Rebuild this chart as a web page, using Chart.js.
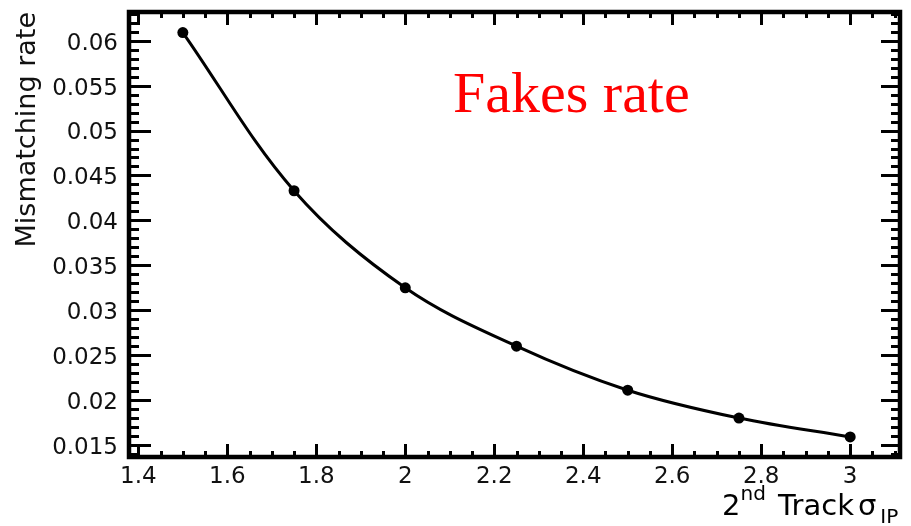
<!DOCTYPE html>
<html>
<head>
<meta charset="utf-8">
<script src="https://cdn.jsdelivr.net/npm/chart.js@4"></script>
<style>
  html, body { margin: 0; padding: 0; background: #fff; }
  #wrap { width: 911px; height: 526px; }
</style>
</head>
<body>
<div id="wrap"><canvas id="c" width="911" height="526"></canvas></div>
<script>
// Second-track impact-parameter significance cut and the resulting mismatching rate
const sigmaIP = [1.5, 1.75, 2.0, 2.25, 2.5, 2.75, 3.0];
const mismatchRate = [0.0609, 0.0433, 0.0325, 0.0260, 0.0211, 0.0180, 0.0159];

// Labelled ticks on each axis
const xTickLabels = [1.4, 1.6, 1.8, 2.0, 2.2, 2.4, 2.6, 2.8, 3.0];
const yTickLabels = [0.015, 0.02, 0.025, 0.03, 0.035, 0.04, 0.045, 0.05, 0.055, 0.06];

// Axis ranges
const xRange = [1.379, 3.112];
const yRange = [0.01367, 0.06319];

const labelFont = { family: '"DejaVu Sans", sans-serif', size: 23 };
const fmt = v => String(parseFloat(Number(v).toFixed(4)));

// Boxed frame with inward major/minor ticks on all four sides, plus text annotations
const framePlugin = {
  id: 'frame',
  afterDraw(chart) {
    const { ctx, chartArea: a, scales } = chart;
    const xs = scales.x, ys = scales.y;
    ctx.save();
    ctx.strokeStyle = '#000';
    ctx.lineCap = 'butt';

    // x ticks: minor every 0.05, major every 0.2
    ctx.lineWidth = 3;
    const kx0 = Math.ceil(xs.min / 0.05 - 1e-9), kx1 = Math.floor(xs.max / 0.05 + 1e-9);
    for (let k = kx0; k <= kx1; k++) {
      const px = Math.round(xs.getPixelForValue(k * 0.05)) + 0.5;
      const major = k % 4 === 0;
      const lb = major ? 13 : 6, lt = major ? 13 : 6;
      ctx.beginPath();
      ctx.moveTo(px, a.bottom); ctx.lineTo(px, a.bottom - lb);
      ctx.moveTo(px, a.top); ctx.lineTo(px, a.top + lt);
      ctx.stroke();
    }
    // y ticks: minor every 0.001, major every 0.005
    const ky0 = Math.ceil(ys.min / 0.001 - 1e-9), ky1 = Math.floor(ys.max / 0.001 + 1e-9);
    for (let k = ky0; k <= ky1; k++) {
      const py = Math.round(ys.getPixelForValue(k * 0.001)) + 0.5;
      const major = k % 5 === 0;
      const ll = major ? 22 : 10, lr = major ? 19 : 9;
      ctx.beginPath();
      ctx.moveTo(a.left, py); ctx.lineTo(a.left + ll, py);
      ctx.moveTo(a.right, py); ctx.lineTo(a.right - lr, py);
      ctx.stroke();
    }
    // frame
    ctx.lineWidth = 4.5;
    ctx.strokeRect(a.left, a.top, a.right - a.left, a.bottom - a.top);

    // in-plot annotation
    ctx.fillStyle = '#ff0000';
    ctx.font = '58px "Liberation Serif", serif';
    ctx.textBaseline = 'alphabetic';
    ctx.textAlign = 'left';
    ctx.fillText('Fakes rate', 453, 112);

    // x-axis title with superscript and subscript
    const big = '29px "DejaVu Sans", sans-serif';
    const small = '20px "DejaVu Sans", sans-serif';
    const base = 515;
    const parts = [
      ['2', big, 0, 0],
      ['nd', small, -15, 0],
      [' Track', big, 0, 3],
      ['\u03c3', big, 0, 4],
      ['IP', small, 8, 4]
    ];
    ctx.fillStyle = '#000';
    let x = 722;
    for (const [t, f, dy, gap] of parts) {
      ctx.font = f;
      x += gap;
      ctx.fillText(t, x, base + dy);
      x += ctx.measureText(t).width;
    }
    ctx.restore();
  }
};

new Chart(document.getElementById('c'), {
  type: 'line',
  data: {
    datasets: [{
      data: sigmaIP.map((x, i) => ({ x, y: mismatchRate[i] })),
      borderColor: '#000',
      borderWidth: 3,
      pointRadius: 5.5,
      pointBackgroundColor: '#000',
      pointBorderWidth: 0,
      tension: 0.35,
      fill: false,
      clip: false
    }]
  },
  options: {
    responsive: false,
    animation: false,
    events: [],
    layout: { padding: { top: 12, right: 11, left: 0, bottom: 0 } },
    plugins: { legend: { display: false }, tooltip: { enabled: false } },
    scales: {
      x: {
        type: 'linear',
        min: xRange[0],
        max: xRange[1],
        afterBuildTicks(s) { s.ticks = xTickLabels.map(v => ({ value: v })); },
        afterFit(s) { s.height = 69; s.paddingLeft = 0; s.paddingRight = 0; },
        grid: { display: false, drawTicks: false },
        border: { display: false },
        ticks: {
          font: labelFont, color: '#111', padding: 6,
          maxRotation: 0, autoSkip: false, callback: fmt
        }
      },
      y: {
        type: 'linear',
        min: yRange[0],
        max: yRange[1],
        afterBuildTicks(s) { s.ticks = yTickLabels.map(v => ({ value: v })); },
        afterFit(s) { s.width = 129; s.paddingTop = 0; s.paddingBottom = 0; },
        grid: { display: false, drawTicks: false },
        border: { display: false },
        ticks: {
          font: labelFont, color: '#111', padding: 11, labelOffset: 3,
          autoSkip: false, callback: fmt
        },
        title: {
          display: true,
          text: 'Mismatching rate',
          align: 'end',
          color: '#111',
          font: { family: '"DejaVu Sans", sans-serif', size: 27 },
          padding: { top: 12, bottom: 0 }
        }
      }
    }
  },
  plugins: [framePlugin]
});
</script>
</body>
</html>
